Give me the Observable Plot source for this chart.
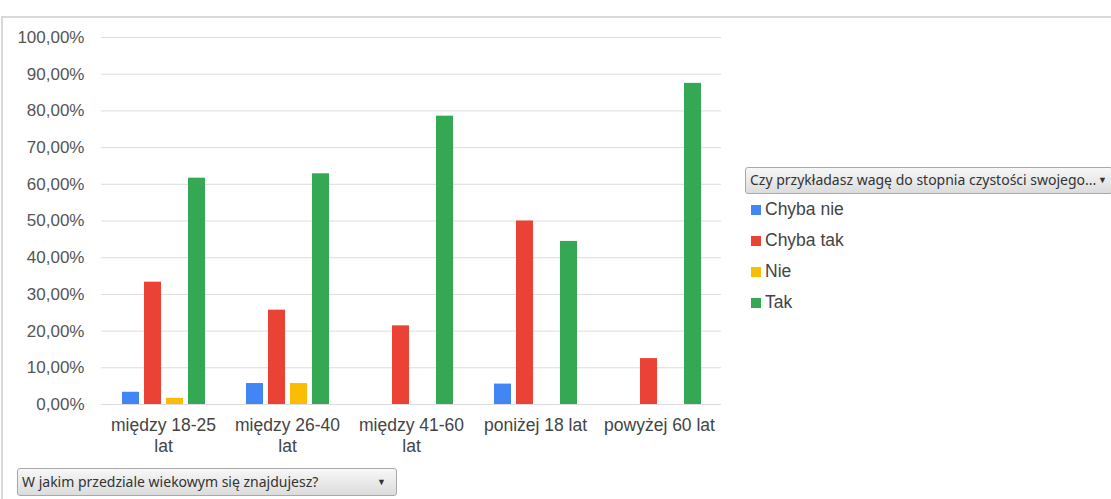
<!DOCTYPE html>
<html><head><meta charset="utf-8">
<script src="https://cdn.jsdelivr.net/npm/d3@7"></script>
<script src="https://cdn.jsdelivr.net/npm/@observablehq/plot@0.6"></script>
<style>
body{margin:0;background:#fff;width:1111px;height:499px;overflow:hidden;position:relative;font-family:"Liberation Sans",Arial,sans-serif;}
#frame{position:absolute;left:1px;top:16px;width:1120px;height:500px;border-left:2px solid #d9d9d9;border-top:2px solid #d9d9d9;z-index:2;pointer-events:none;}
#chart{position:absolute;left:0;top:0;z-index:1;}
.dd{position:absolute;z-index:3;box-sizing:border-box;border:1px solid #a9a9a9;border-radius:3px;background:linear-gradient(#f7f7f7,#dcdcdc);font-family:"Noto Sans","Open Sans",sans-serif;font-size:14px;color:#333;padding:2px 4px;white-space:nowrap;}
.dd .arr{position:absolute;right:8px;top:4px;font-size:9px;color:#333;}
#legend{position:absolute;z-index:3;left:751px;top:199px;font-size:17.5px;color:#444;}
#legend .it{height:31px;display:flex;align-items:flex-start;}
#legend .sw{width:10px;height:10px;margin-top:6px;margin-right:4px;}
</style></head>
<body>
<div id="frame"></div>
<div id="chart"></div>
<div class="dd" style="left:745px;top:167px;width:368px;height:27px;">Czy przykładasz wagę do stopnia czystości swojego...<span class="arr" style="right:5px;top:5px">▼</span></div>
<div id="legend"></div>
<div class="dd" style="left:17px;top:468px;width:380px;height:28px;padding-top:3px;">W jakim przedziale wiekowym się znajdujesz?<span class="arr" style="right:10px;top:6px">▼</span></div>
<script>
const categories = ["między 18-25 lat","między 26-40 lat","między 41-60 lat","poniżej 18 lat","powyżej 60 lat"];
const series = ["Chyba nie","Chyba tak","Nie","Tak"];
const colors = ["#4285f4","#ea4335","#fbbc04","#34a853"];
const chybaNie = [0.0333, 0.0571, null, 0.0556, null];
const chybaTak = [0.3333, 0.2571, 0.2143, 0.5, 0.125];
const nie      = [0.0167, 0.0571, null, null, null];
const tak      = [0.6167, 0.6286, 0.7857, 0.4444, 0.875];
const yTicks = [0,0.1,0.2,0.3,0.4,0.5,0.6,0.7,0.8,0.9,1.0];

const valuesBySeries = [chybaNie, chybaTak, nie, tak];
const data = [];
categories.forEach((c,i)=>series.forEach((s,j)=>{
  const v = valuesBySeries[j][i];
  if (v != null) data.push({cat:c, ser:s, val:v});
}));
const wrap = d => d.length > 14 ? d.replace(/ (\S+)$/, "\n$1") : d;
const fmt = d => (d*100).toFixed(2).replace(".",",") + "%";

const chart = Plot.plot({
  width: 740, height: 460,
  marginTop: 37, marginBottom: 56, marginLeft: 100, marginRight: 18,
  style: {fontFamily: "'Liberation Sans', Arial, sans-serif", fontSize: "17px", color: "#555", background: "transparent"},
  fx: {domain: categories, padding: 0, label: null},
  x: {domain: series, paddingInner: 0.25, paddingOuter: 0.86, axis: null},
  y: {domain: [0,1], ticks: yTicks, label: null},
  color: {domain: series, range: colors},
  marks: [
    Plot.gridY(yTicks, {stroke: "#dcdcdc", strokeOpacity: 1}),
    Plot.axisY(yTicks, {tickFormat: fmt, tickSize: 0, tickPadding: 17, fontSize: 17, fill: "#555", label: null}),
    Plot.axisFx({anchor: "bottom", tickFormat: wrap, tickSize: 0, tickPadding: 12, fontSize: 17.5, fill: "#444", label: null, lineHeight: 1.18}),
    Plot.barY(data, {fx: "cat", x: "ser", y: "val", fill: "ser"})
  ]
});
document.getElementById("chart").appendChild(chart);

const lg = document.getElementById("legend");
series.forEach((s,i)=>{
  const it = document.createElement("div"); it.className="it";
  it.innerHTML = `<span class="sw" style="background:${colors[i]}"></span><span>${s}</span>`;
  lg.appendChild(it);
});
</script>
</body></html>
